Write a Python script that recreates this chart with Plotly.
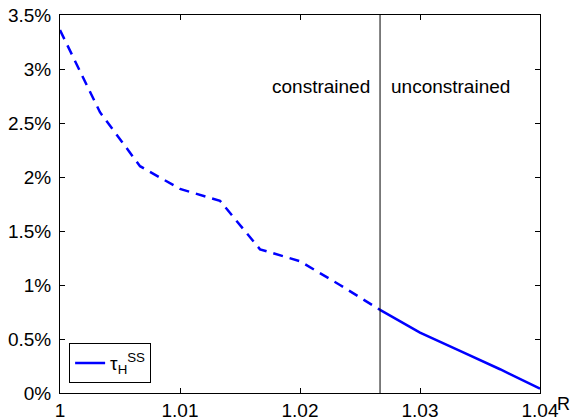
import plotly.graph_objects as go

# Data
R = [1.0, 1.00333, 1.00667, 1.01, 1.01333, 1.01667, 1.02, 1.02333, 1.02667,
     1.03, 1.03333, 1.03667, 1.04]
tau_pct = [3.36, 2.60, 2.10, 1.89, 1.78, 1.33, 1.22, 1.00, 0.77,
           0.56, 0.39, 0.22, 0.04]
R_boundary = 1.02667

x_ticks = [1.0, 1.01, 1.02, 1.03, 1.04]
x_ticktext = ["1", "1.01", "1.02", "1.03", "1.04"]
y_ticks = [0, 0.5, 1, 1.5, 2, 2.5, 3, 3.5]
y_ticktext = ["0%", "0.5%", "1%", "1.5%", "2%", "2.5%", "3%", "3.5%"]

split = R.index(R_boundary)
R_con, tau_con = R[:split + 1], tau_pct[:split + 1]
R_unc, tau_unc = R[split:], tau_pct[split:]

BLUE = "rgb(0,0,255)"
FONT = "Liberation Sans, Arial, sans-serif"
FS = 19

fig = go.Figure()
fig.add_trace(go.Scatter(x=R_con, y=tau_con, mode="lines",
                         line=dict(color=BLUE, width=2.5, dash="10px,7px"),
                         showlegend=False, name="τ"))
fig.add_trace(go.Scatter(x=R_unc, y=tau_unc, mode="lines",
                         line=dict(color=BLUE, width=2.5),
                         name="τ<sub>H</sub><sup>SS</sup>"))

fig.add_shape(type="line", x0=R_boundary, x1=R_boundary, y0=0, y1=3.5,
              xref="x", yref="y", line=dict(color="black", width=1))

fig.add_annotation(x=R_boundary, y=2.84, xref="x", yref="y", text="constrained",
                   showarrow=False, xanchor="right", xshift=-8,
                   font=dict(size=FS, color="black", family=FONT))
fig.add_annotation(x=R_boundary, y=2.84, xref="x", yref="y", text="unconstrained",
                   showarrow=False, xanchor="left", xshift=9,
                   font=dict(size=FS, color="black", family=FONT))
fig.add_annotation(x=1, y=0, xref="paper", yref="paper", text="R",
                   showarrow=False, xanchor="left", yanchor="top",
                   xshift=17, yshift=-1, borderpad=0, borderwidth=0,
                   font=dict(size=18, color="black", family=FONT))

axis_common = dict(showline=True, linecolor="black", linewidth=1, mirror="ticks",
                   ticks="inside", ticklen=5, tickcolor="black", showgrid=False,
                   zeroline=False, automargin=False,
                   tickfont=dict(size=FS, color="black", family=FONT))

fig.update_xaxes(range=[1.0, 1.04], tickvals=x_ticks, ticktext=x_ticktext,
                 ticklabelstandoff=0, **axis_common)
fig.update_yaxes(range=[0, 3.5], tickvals=y_ticks, ticktext=y_ticktext,
                 ticklabelstandoff=4, **axis_common)

fig.update_layout(
    width=575, height=418,
    margin=dict(l=60, r=35, t=15, b=25, autoexpand=False),
    plot_bgcolor="white", paper_bgcolor="white",
    font=dict(family=FONT, size=FS, color="black"),
    legend=dict(x=0.019, y=0.026, xanchor="left", yanchor="bottom",
                bgcolor="white", bordercolor="black", borderwidth=1,
                font=dict(size=FS, family=FONT), itemwidth=30,
                tracegroupgap=0),
)

fig.write_html("out.html", config={"displayModeBar": False},
               post_script="document.body.style.margin='0';document.body.style.overflow='hidden';")
